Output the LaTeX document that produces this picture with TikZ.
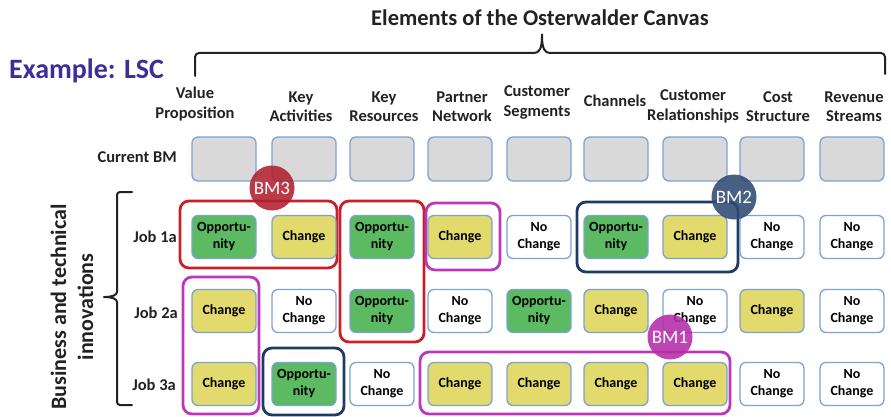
\documentclass[tikz,border=0pt]{standalone}
\usepackage{fontspec}
\setmainfont{Carlito}
\usetikzlibrary{fit}
\definecolor{oppg}{HTML}{5BBA62}
\definecolor{chgy}{HTML}{E2DA6C}
\definecolor{curg}{HTML}{D9D9D9}
\definecolor{cellb}{HTML}{7BA3D3}
\definecolor{fred}{HTML}{C8202A}
\definecolor{fmag}{HTML}{BE36BA}
\definecolor{fnavy}{HTML}{1F3A64}
\definecolor{cred}{HTML}{B11F2E}
\definecolor{cnavy}{HTML}{2D4A73}
\definecolor{cmag}{HTML}{B52CA8}
\definecolor{lscblue}{HTML}{3B2F9A}
\definecolor{ink}{HTML}{222222}
\begin{document}
\begin{tikzpicture}[x=1pt,y=-1pt,
  cell/.style={draw=cellb, line width=1.3pt, rounded corners=6pt, minimum width=64pt, minimum height=43pt, inner sep=0pt, align=center, font=\fontsize{14pt}{17pt}\selectfont\bfseries, text=black},
  cur/.style={cell, fill=curg, minimum height=44pt},
  opp/.style={cell, fill=oppg, node contents={Opportu-\\nity}},
  chg/.style={cell, fill=chgy, node contents={Change}},
  noc/.style={cell, fill=white, node contents={No\\Change}},
  frame/.style={draw=#1, line width=2.8pt, rounded corners=9pt, inner sep=0pt, fill=none},
  bm/.style={circle, fill=#1, fill opacity=0.88, text opacity=1, minimum size=45pt, inner sep=0pt, text=white, font=\fontsize{19pt}{19pt}\selectfont},
  hdr/.style={align=center, font=\fontsize{16.5pt}{19.5pt}\selectfont\bfseries, text=ink, inner sep=0pt},
  rowl/.style={anchor=east, font=\fontsize{16.5pt}{19.5pt}\selectfont\bfseries, text=ink, inner sep=0pt},
  brace/.style={draw=ink, line width=2pt, line cap=round, line join=round}
]
\useasboundingbox (0,0) rectangle (891,417);

% title and example
\node[font=\fontsize{22.5pt}{26pt}\selectfont\bfseries, text=ink, anchor=base, inner sep=0pt] (title) at (540,26) {Elements of the Osterwalder Canvas};
\node[font=\fontsize{28pt}{32pt}\selectfont\bfseries, text=lscblue, anchor=base west, inner sep=0pt] (lsc) at (9,79) {Example: LSC};

% top brace
\draw[brace, rounded corners=4pt] (195,76) -- (195,53) -- (530,53)
  .. controls (539,53) and (542,49) .. (542,32)
  .. controls (542,49) and (545,53) .. (554,53) -- (885,53) -- (885,74);

% headers
\node[hdr] (h1) at (195,104) {Value\\Proposition};
\node[hdr] (h2) at (301,106.5) {Key\\Activities};
\node[hdr] (h3) at (384,106.5) {Key\\Resources};
\node[hdr] (h4) at (462,106.5) {Partner\\Network};
\node[hdr] (h5) at (537,102.5) {Customer\\Segments};
\node[hdr] (h6) at (615,100.5) {Channels};
\node[hdr] (h7) at (693,106.5) {Customer\\Relationships};
\node[hdr] (h8) at (778,106.5) {Cost\\Structure};
\node[hdr] (h9) at (854,106.5) {Revenue\\Streams};

% row labels
\node[rowl] (lcur) at (177,157) {Current BM};
\node[rowl] (lj1) at (177,237) {Job 1a};
\node[rowl] (lj2) at (178,313) {Job 2a};
\node[rowl] (lj3) at (176,385) {Job 3a};

% side brace and label
\draw[brace, rounded corners=3pt] (132,192) -- (117,192) -- (117,289)
  .. controls (117,295) and (112,297) .. (102,297)
  .. controls (112,297) and (117,299) .. (117,305) -- (117,405) -- (132,405);
\node[rotate=90, align=center, font=\fontsize{22pt}{27pt}\selectfont\bfseries, text=ink, inner sep=0pt] (side) at (72,307) {Business and technical\\innovations};

% current BM row
\foreach \x [count=\i] in {224,304,382,460,539,616,695,772,852}
  \node[cur] (c\i) at (\x,159) {};

% frames
\node[frame=fred, fit={(180,201) (337,268)}] (f3a) {};
\node[frame=fred, fit={(340,201) (424,342)}] (f3b) {};
\node[frame=fmag, fit={(426,203) (500,270)}] (f1a) {};
\node[frame=fmag, fit={(183,277) (259,414)}] (f1b) {};
\node[frame=fnavy, fit={(263,348) (344,415)}] (f2a) {};
\node[frame=fnavy, fit={(577,202) (738,272)}] (f2b) {};
\node[frame=fmag, fit={(420,352) (730,414)}] (f1c) {};

% job rows
\foreach \x/\t [count=\i] in {224/opp,304/chg,382/opp,460/chg,539/noc,616/opp,695/chg,772/noc,852/noc}
  \node[\t, name=a\i, at={(\x,237)}];
\foreach \x/\t [count=\i] in {224/chg,304/noc,382/opp,460/noc,539/opp,616/chg,695/noc,772/chg,852/noc}
  \node[\t, name=b\i, at={(\x,311)}];
\foreach \x/\t [count=\i] in {224/chg,304/opp,382/noc,460/chg,539/chg,616/chg,695/chg,772/noc,852/noc}
  \node[\t, name=d\i, at={(\x,384)}];

% BM circles
\node[bm=cred] (bm3) at (272,188) {BM3};
\node[bm=cnavy] (bm2) at (734,197) {BM2};
\node[bm=cmag] (bm1) at (670,337) {BM1};
\end{tikzpicture}
\end{document}
